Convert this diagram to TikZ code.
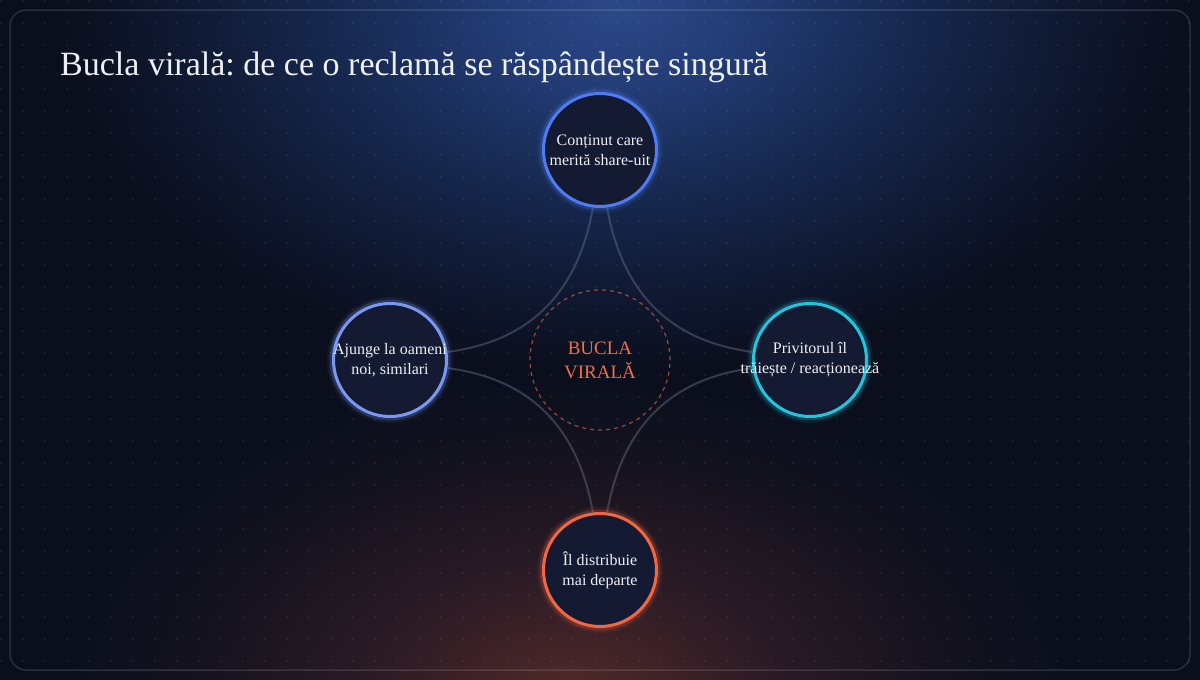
\documentclass[tikz,border=0pt]{standalone}
\usepackage{fontspec}
\setmainfont{Liberation Serif}
\frenchspacing
\definecolor{bgc}{HTML}{0B0F1D}
\definecolor{blueA}{HTML}{2C4886}
\definecolor{blueB}{HTML}{233D77}
\definecolor{blueC}{HTML}{192D58}
\definecolor{blueD}{HTML}{111C38}
\definecolor{redA}{HTML}{522C2A}
\definecolor{redB}{HTML}{3E2227}
\definecolor{redC}{HTML}{281A24}
\definecolor{redD}{HTML}{16131F}
\definecolor{ringTop}{HTML}{4F7CF2}
\definecolor{ringLeft}{HTML}{7A97F2}
\definecolor{ringRight}{HTML}{22C4DE}
\definecolor{ringBottom}{HTML}{F26641}
\definecolor{nodefill}{HTML}{131A31}
\definecolor{accent}{HTML}{EE6F4A}
\definecolor{txt}{HTML}{EEF0F7}
\definecolor{connc}{HTML}{6A7088}
\pgfdeclareradialshading{blueglow}{\pgfpointorigin}{color(0bp)=(blueA); color(5bp)=(blueB); color(11bp)=(blueC); color(18bp)=(blueD); color(25bp)=(bgc); color(50bp)=(bgc)}
\pgfdeclareradialshading{redglow}{\pgfpointorigin}{color(0bp)=(redA); color(5bp)=(redB); color(11bp)=(redC); color(18bp)=(redD); color(25bp)=(bgc); color(50bp)=(bgc)}
\pgfdeclarelayer{bglayer}
\pgfdeclarelayer{edgelayer}
\pgfsetlayers{bglayer,edgelayer,main}
\tikzset{
  ringnode/.style={circle, minimum size=113pt, inner sep=0pt, line width=3pt,
    draw=#1, fill=nodefill,
    preaction={draw=#1, line width=13pt, draw opacity=0.08},
    preaction={draw=#1, line width=8pt, draw opacity=0.22}},
  nodetext/.style={align=center, text=txt, font=\fontsize{16}{20}\selectfont, inner sep=0pt},
  conn/.style={draw=connc, line width=2pt, draw opacity=0.45},
  centerring/.style={circle, minimum size=140pt, inner sep=0pt, draw=accent, draw opacity=0.6,
    line width=1.2pt, dash pattern=on 4pt off 4pt},
  titletext/.style={anchor=base west, text=txt, font=\fontsize{34}{40}\selectfont, inner sep=0pt},
  centertext/.style={align=center, text=accent, font=\fontsize{19}{24}\selectfont, inner sep=0pt}
}
\begin{document}
\begin{tikzpicture}[x=1pt,y=-1pt]
\useasboundingbox (0,0) rectangle (1200,680);
\begin{pgfonlayer}{bglayer}
  \begin{scope}
    \clip (0,0) rectangle (1200,680);
    \fill[bgc] (0,0) rectangle (1200,680);
    \shade[shading=redglow] (570,700) ellipse [x radius=500, y radius=320];
    \shade[shading=blueglow] (620,10) ellipse [x radius=560, y radius=360];
    \fill[white, fill opacity=0.075] \foreach \i in {0,...,54} {\foreach \j in {0,...,30} {(22*\i+1,22*\j+1) circle (1.1)}};
  \end{scope}
  \draw[white, draw opacity=0.13, line width=1.5pt, rounded corners=16pt] (10,10) rectangle (1190,670);
\end{pgfonlayer}

\node[titletext] (title) at (60,75) {Bucla virală: de ce o reclamă se răspândește singură};

\node[centerring] (center) at (600,360) {};
\node[centertext] (centerlabel) at (600,360) {BUCLA\\VIRALĂ};

\node[ringnode=ringTop] (top) at (600,150) {};
\node[ringnode=ringLeft] (left) at (390,360) {};
\node[ringnode=ringRight] (right) at (810,360) {};
\node[ringnode=ringBottom] (bottom) at (600,570) {};

\node[nodetext] (toplabel) at (top) {Conținut care\\merită share-uit};
\node[nodetext] (leftlabel) at (left) {Ajunge la oameni\\noi, similari};
\node[nodetext] (rightlabel) at (right) {Privitorul îl\\trăiește / reacționează};
\node[nodetext] (bottomlabel) at (bottom) {Îl distribuie\\mai departe};

\begin{pgfonlayer}{edgelayer}
  \draw[conn] (top.263) .. controls (577.7,292.7) and (530.7,341) .. (left.8);
  \draw[conn] (top.277) .. controls (622.3,292.7) and (669.3,341) .. (right.172);
  \draw[conn] (right.188) .. controls (669.3,379) and (622.3,427.3) .. (bottom.83);
  \draw[conn] (bottom.97) .. controls (577.7,427.3) and (530.7,379) .. (left.352);
\end{pgfonlayer}
\end{tikzpicture}
\end{document}
